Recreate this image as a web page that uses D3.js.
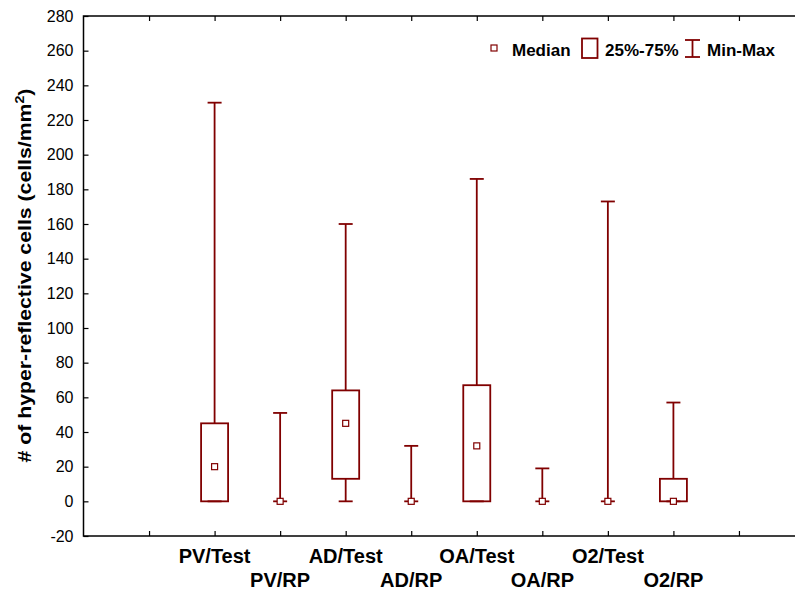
<!DOCTYPE html>
<html>
<head>
<meta charset="utf-8">
<script src="https://cdn.jsdelivr.net/npm/d3@7"></script>
<style>
  html, body { margin: 0; padding: 0; background: #fff; }
  svg { display: block; font-family: "Liberation Sans", Arial, sans-serif; }
</style>
</head>
<body>
<svg id="chart" width="795" height="590"></svg>
<script>
// ---- data ----
const categories = ["PV/Test", "PV/RP", "AD/Test", "AD/RP", "OA/Test", "OA/RP", "O2/Test", "O2/RP"];
const medians = [20, 0, 45, 0, 32, 0, 0, 0];
const q1s     = [0, 0, 13, 0, 0, 0, 0, 0];
const q3s     = [45, 0, 64, 0, 67, 0, 0, 13];
const mins    = [0, 0, 0, 0, 0, 0, 0, 0];
const maxs    = [230, 51, 160, 32, 186, 19, 173, 57];
const yTicks  = [-20, 0, 20, 40, 60, 80, 100, 120, 140, 160, 180, 200, 220, 240, 260, 280];
const legendLabels = ["Median", "25%-75%", "Min-Max"];
const yTitle = "# of hyper-reflective cells (cells/mm";

// ---- layout ----
const svg = d3.select("#chart");
const color = "#800000";
const plotLeft = 83.5, plotTop = 16, plotBottom = 536;

// slot positions: categories occupy slots 1..8, frame from slot -1 to slot 10
const x = d3.scaleLinear().domain([-1, 10]).range([plotLeft, 804.5]);
const y = d3.scaleLinear().domain([-20, 280]).range([plotBottom, plotTop]);
const xi = i => x(i + 1);

svg.append("rect").attr("width", 795).attr("height", 590).attr("fill", "#fff");

// frame
svg.append("rect")
  .attr("x", plotLeft).attr("y", plotTop)
  .attr("width", x(10) - plotLeft).attr("height", plotBottom - plotTop)
  .attr("stroke", "#000").attr("stroke-width", 1.5).attr("fill", "none");

// left axis
const yAxis = d3.axisLeft(y).tickValues(yTicks).tickSize(-5).tickPadding(10).tickFormat(d => String(d));
const gy = svg.append("g").attr("transform", `translate(${plotLeft},0)`).call(yAxis);
gy.select(".domain").remove();
gy.selectAll(".tick line").attr("stroke", "#000").attr("stroke-width", 1.2);
gy.selectAll(".tick text").attr("font-size", 16).attr("fill", "#000")
  .attr("font-family", "'Liberation Sans', Arial, sans-serif");

// bottom axis ticks (slots 0..9)
const slotTicks = d3.range(0, 10);
const xAxisB = d3.axisBottom(x).tickValues(slotTicks).tickSize(-5).tickFormat("");
const gxb = svg.append("g").attr("transform", `translate(0,${plotBottom})`).call(xAxisB);
gxb.select(".domain").remove();
gxb.selectAll(".tick line").attr("stroke", "#000").attr("stroke-width", 1.2);

// top axis ticks
const xAxisT = d3.axisTop(x).tickValues(slotTicks).tickSize(-5).tickFormat("");
const gxt = svg.append("g").attr("transform", `translate(0,${plotTop})`).call(xAxisT);
gxt.select(".domain").remove();
gxt.selectAll(".tick line").attr("stroke", "#000").attr("stroke-width", 1.2);

// category labels (two alternating rows)
svg.append("g").selectAll("text").data(categories).join("text")
  .attr("x", (d, i) => xi(i))
  .attr("y", (d, i) => i % 2 === 0 ? 563 : 587)
  .attr("text-anchor", "middle")
  .attr("font-size", 20).attr("font-weight", "bold").attr("fill", "#000")
  .text(d => d);

// y title (stretched along its length to match the reference span)
const ytG = svg.append("g")
  .attr("transform", `translate(31,${(plotTop + plotBottom) / 2 - 0.5}) rotate(-90)`);
const ytInner = ytG.append("g");
const yt = ytInner.append("text")
  .attr("text-anchor", "middle")
  .attr("font-size", 18).attr("font-weight", "bold").attr("fill", "#000");
yt.append("tspan").text(yTitle);
yt.append("tspan").attr("font-size", 12).attr("dy", -7).text("2");
yt.append("tspan").attr("dy", 7).text(")");
const tw = yt.node().getBBox().width;
if (tw > 0) ytInner.attr("transform", `scale(${374 / tw},1)`);

// boxes and whiskers
const boxW = 27, capW = 14, medS = 6;
const g = svg.append("g").attr("stroke", color).attr("fill", "none");
categories.forEach((c, i) => {
  const cx = xi(i);
  g.append("line").attr("x1", cx).attr("x2", cx)
    .attr("y1", y(maxs[i])).attr("y2", y(q3s[i])).attr("stroke-width", 1.8);
  g.append("line").attr("x1", cx).attr("x2", cx)
    .attr("y1", y(q1s[i])).attr("y2", y(mins[i])).attr("stroke-width", 1.8);
  g.append("line").attr("x1", cx - capW / 2).attr("x2", cx + capW / 2)
    .attr("y1", y(maxs[i])).attr("y2", y(maxs[i])).attr("stroke-width", 1.8);
  g.append("line").attr("x1", cx - capW / 2).attr("x2", cx + capW / 2)
    .attr("y1", y(mins[i])).attr("y2", y(mins[i])).attr("stroke-width", 1.8);
  if (q3s[i] > q1s[i]) {
    g.append("rect").attr("x", cx - boxW / 2).attr("y", y(q3s[i]))
      .attr("width", boxW).attr("height", y(q1s[i]) - y(q3s[i]))
      .attr("stroke-width", 1.8).attr("fill", "none");
  }
  g.append("rect").attr("x", cx - medS / 2).attr("y", y(medians[i]) - medS / 2)
    .attr("width", medS).attr("height", medS)
    .attr("fill", "#fff").attr("stroke-width", 1.2);
});

// legend
const lg = svg.append("g");
lg.append("rect").attr("x", 491).attr("y", 45).attr("width", 6).attr("height", 6)
  .attr("fill", "#fff").attr("stroke", color).attr("stroke-width", 1.2);
lg.append("rect").attr("x", 582).attr("y", 38.5).attr("width", 15.5).attr("height", 19.5)
  .attr("fill", "none").attr("stroke", color).attr("stroke-width", 1.8);
lg.append("line").attr("x1", 692.5).attr("x2", 692.5).attr("y1", 40).attr("y2", 57)
  .attr("stroke", color).attr("stroke-width", 1.8);
lg.append("line").attr("x1", 685).attr("x2", 700).attr("y1", 40).attr("y2", 40)
  .attr("stroke", color).attr("stroke-width", 1.8);
lg.append("line").attr("x1", 685).attr("x2", 700).attr("y1", 57).attr("y2", 57)
  .attr("stroke", color).attr("stroke-width", 1.8);
const lx = [512, 605, 707];
lg.selectAll("text.leg").data(legendLabels).join("text").attr("class", "leg")
  .attr("x", (d, i) => lx[i]).attr("y", 55.5)
  .attr("font-size", 17).attr("font-weight", "bold").attr("fill", "#000")
  .text(d => d);
</script>
</body>
</html>
